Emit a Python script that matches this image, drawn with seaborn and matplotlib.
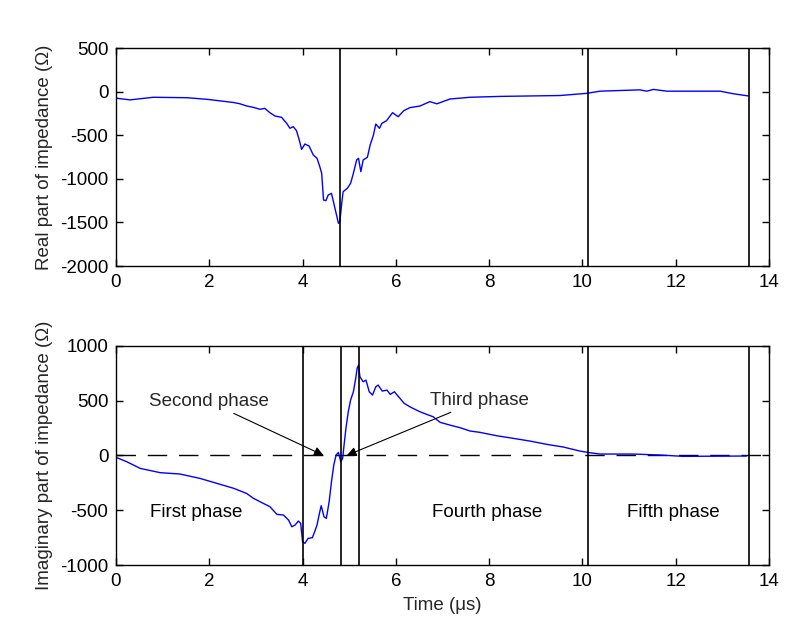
import numpy as np
import pandas as pd
import matplotlib
matplotlib.use("Agg")
import matplotlib.pyplot as plt
import seaborn as sns

# ---- data ----
real_t = [0.00, 0.30, 0.80, 1.52, 1.98, 2.52, 2.66, 2.80, 2.94, 3.09, 3.19, 3.30, 3.41, 3.55,
          3.66, 3.73, 3.80, 3.87, 3.93, 3.98, 4.05, 4.14, 4.23, 4.31, 4.37, 4.41, 4.45, 4.50,
          4.55, 4.62, 4.67, 4.72, 4.77, 4.80, 4.84, 4.87, 4.96, 5.03, 5.09, 5.16, 5.20, 5.25,
          5.30, 5.39, 5.45, 5.52, 5.57, 5.65, 5.70, 5.80, 5.93, 6.05, 6.17, 6.30, 6.52, 6.73,
          6.88, 7.16, 7.59, 8.23, 9.52, 10.09, 10.38, 11.23, 11.38, 11.52, 11.81, 12.95, 13.24,
          13.56]
real_z = [-75, -95, -65, -70, -90, -125, -140, -165, -180, -203, -192, -242, -280, -295,
          -364, -421, -402, -448, -555, -662, -601, -624, -727, -765, -861, -937, -1243, -1251,
          -1186, -1167, -1281, -1396, -1511, -1492, -1281, -1148, -1109, -1052, -937, -784, -765, -918,
          -784, -753, -612, -498, -372, -421, -364, -334, -242, -288, -219, -184, -165, -115,
          -140, -85, -65, -55, -45, -20, 5, 20, 5, 25, 5, 5, -25,
          -50]

imag_t = [0.00, 0.23, 0.52, 0.95, 1.37, 1.80, 2.16, 2.52, 2.80, 2.94, 3.09, 3.30, 3.45, 3.59,
          3.70, 3.77, 3.84, 3.91, 3.96, 4.00, 4.05, 4.12, 4.21, 4.26, 4.31, 4.37, 4.40, 4.46,
          4.51, 4.57, 4.62, 4.67, 4.72, 4.77, 4.82, 4.86, 4.89, 4.93, 4.98, 5.03, 5.09, 5.14,
          5.17, 5.20, 5.23, 5.30, 5.36, 5.43, 5.50, 5.57, 5.62, 5.71, 5.81, 5.88, 5.97, 6.06,
          6.18, 6.30, 6.37, 6.52, 6.66, 6.80, 6.95, 7.16, 7.38, 7.59, 7.80, 8.16, 8.52, 8.88,
          9.24, 9.59, 9.95, 10.16, 10.38, 11.09, 11.66, 12.16, 13.52]
imag_z = [-18, -58, -119, -158, -170, -210, -255, -300, -347, -390, -423, -468, -538, -544,
          -590, -651, -635, -599, -620, -788, -802, -757, -751, -696, -635, -514, -459, -560,
          -575, -423, -241, -88, 3, 27, -58, -27, 94, 246, 397, 504, 580, 702,
          793, 823, 717, 671, 686, 580, 550, 625, 641, 586, 595, 556, 580, 534,
          474, 443, 428, 397, 374, 352, 301, 276, 252, 222, 210, 179, 155, 130,
          100, 76, 39, 24, 12, 12, 3, -9, -6]

top_vlines = [4.80, 10.13, 13.58]
bottom_vlines = [4.01, 4.82, 5.21, 10.13, 13.58]
x_ticks = [0, 2, 4, 6, 8, 10, 12, 14]
top_yticks = [500, 0, -500, -1000, -1500, -2000]
bottom_yticks = [1000, 500, 0, -500, -1000]

phase_labels = ["First phase", "Fourth phase", "Fifth phase"]
phase_x = [1.72, 7.95, 11.95]
phase_y = [-520, -520, -520]

df_real = pd.DataFrame({"t": real_t, "z": real_z})
df_imag = pd.DataFrame({"t": imag_t, "z": imag_z})

sns.set_theme(style="white")
plt.rcParams["font.family"] = ["Liberation Sans", "DejaVu Sans"]
plt.rcParams["xtick.direction"] = "in"
plt.rcParams["ytick.direction"] = "in"

fig = plt.figure(figsize=(8.01, 6.35), dpi=100)
ax1 = fig.add_axes([0.1448, 0.5811, 0.8152, 0.3433])
ax2 = fig.add_axes([0.1448, 0.1102, 0.8152, 0.3454])

tick_fs = 13.5
lab_fs = 13.5

for ax in (ax1, ax2):
    for s in ax.spines.values():
        s.set_color("black")
        s.set_linewidth(1.0)
    ax.tick_params(axis="both", which="both", direction="in", top=True, right=True,
                   length=5, width=1.0, colors="black", labelsize=tick_fs,
                   bottom=True, left=True)
    ax.tick_params(axis="x", pad=6)
    ax.tick_params(axis="y", pad=5.5)
    ax.set_xlim(0, 14)
    ax.set_xticks(x_ticks)
    ax.set_xticklabels([str(v) for v in x_ticks])

# Top panel
sns.lineplot(data=df_real, x="t", y="z", ax=ax1, color=(0, 0, 1), linewidth=1.0,
             estimator=None, sort=False)
for v in top_vlines:
    ax1.axvline(v, color="black", linewidth=1.2)
ax1.set_ylim(-2000, 500)
ax1.set_yticks(top_yticks)
ax1.set_yticklabels([str(v) for v in top_yticks])
ax1.set_xlabel("")
ax1.set_ylabel("Real part of impedance (Ω)", fontsize=lab_fs, labelpad=5)

# Bottom panel
ax2.axhline(0, color="black", linewidth=1.0, linestyle=(0, (14, 8.5)))
sns.lineplot(data=df_imag, x="t", y="z", ax=ax2, color=(0, 0, 1), linewidth=1.0,
             estimator=None, sort=False)
for v in bottom_vlines:
    ax2.axvline(v, color="black", linewidth=1.2)
ax2.set_ylim(-1000, 1000)
ax2.set_yticks(bottom_yticks)
ax2.set_yticklabels([str(v) for v in bottom_yticks])
ax2.set_xlabel("Time (μs)", fontsize=lab_fs, labelpad=5)
ax2.set_ylabel("Imaginary part of impedance (Ω)", fontsize=lab_fs, labelpad=5)

for lbl, x, y in zip(phase_labels, phase_x, phase_y):
    ax2.text(x, y, lbl, ha="center", va="center", fontsize=lab_fs, color="black")

arrow = dict(arrowstyle="-|>", color="black", lw=0.8, mutation_scale=14, shrinkA=0, shrinkB=0)
ax2.annotate("Second phase", xy=(4.45, 0), xytext=(3.27, 490), fontsize=lab_fs,
             ha="right", va="center", arrowprops=arrow)
ax2.annotate("Third phase", xy=(4.95, 0), xytext=(6.73, 500), fontsize=lab_fs,
             ha="left", va="center", arrowprops=arrow)

fig.savefig("out.png", dpi=100, facecolor="white")
